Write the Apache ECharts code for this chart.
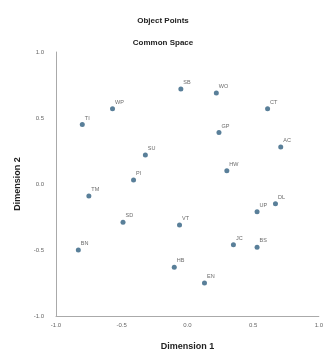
<!DOCTYPE html>
<html>
<head>
<meta charset="utf-8">
<script src="https://cdn.jsdelivr.net/npm/echarts@6/dist/echarts.min.js"></script>
<style>
  html, body { margin: 0; padding: 0; background: #fff; }
  #chart { width: 326px; height: 356px; }
</style>
</head>
<body>
<div id="chart"></div>
<script>
// object point labels and their coordinates in the common space
const names = ['TI', 'WP', 'SB', 'WO', 'CT', 'GP', 'AC', 'HW', 'SU', 'PI',
               'TM', 'SD', 'BN', 'VT', 'UP', 'DL', 'JC', 'BS', 'HB', 'EN'];
const dim1 = [-0.80, -0.57, -0.05, 0.22, 0.61, 0.24, 0.71, 0.30, -0.32, -0.41,
              -0.75, -0.49, -0.83, -0.06, 0.53, 0.67, 0.35, 0.53, -0.10, 0.13];
const dim2 = [0.45, 0.57, 0.72, 0.69, 0.57, 0.39, 0.28, 0.10, 0.22, 0.03,
              -0.09, -0.29, -0.50, -0.31, -0.21, -0.15, -0.46, -0.48, -0.63, -0.75];
const tickLabels = ['-1.0', '-0.5', '0.0', '0.5', '1.0'];

const points = names.map((n, i) => ({ name: n, value: [dim1[i], dim2[i]] }));

const axisCommon = {
    min: -1, max: 1, interval: 0.5,
    axisLine: { show: true, onZero: false, lineStyle: { color: '#aaaaaa', width: 1 } },
    axisTick: { show: false },
    splitLine: { show: false },
    nameLocation: 'middle',
    nameTextStyle: { fontFamily: 'Liberation Sans', fontWeight: 'bold', fontSize: 9, color: '#222' },
    axisLabel: {
        fontSize: 6, color: '#666', fontFamily: 'Liberation Sans',
        formatter: v => tickLabels[Math.round((v + 1) / 0.5)]
    }
};

const chart = echarts.init(document.getElementById('chart'));
chart.setOption({
    animation: false,
    title: [
        { text: 'Object Points', left: 'center', top: 12,
          textStyle: { fontSize: 8, fontWeight: 'bold', color: '#222', fontFamily: 'Liberation Sans' } },
        { text: 'Common Space', left: 'center', top: 34,
          textStyle: { fontSize: 8, fontWeight: 'bold', color: '#222', fontFamily: 'Liberation Sans' } }
    ],
    grid: { left: 56, right: 6, top: 52, bottom: 38 },
    xAxis: Object.assign({}, axisCommon, {
        type: 'value', name: 'Dimension 1', nameGap: 26,
        axisLabel: Object.assign({}, axisCommon.axisLabel, { margin: 6 })
    }),
    yAxis: Object.assign({}, axisCommon, {
        type: 'value', name: 'Dimension 2', nameGap: 34,
        axisLabel: Object.assign({}, axisCommon.axisLabel, { margin: 12 })
    }),
    series: [{
        type: 'scatter',
        data: points,
        symbolSize: 5,
        itemStyle: { color: '#2f5f80' },
        label: {
            show: true,
            position: [5, -7],
            formatter: p => p.name,
            fontSize: 5.5,
            color: '#444',
            fontFamily: 'Liberation Sans'
        }
    }]
});
</script>
</body>
</html>
